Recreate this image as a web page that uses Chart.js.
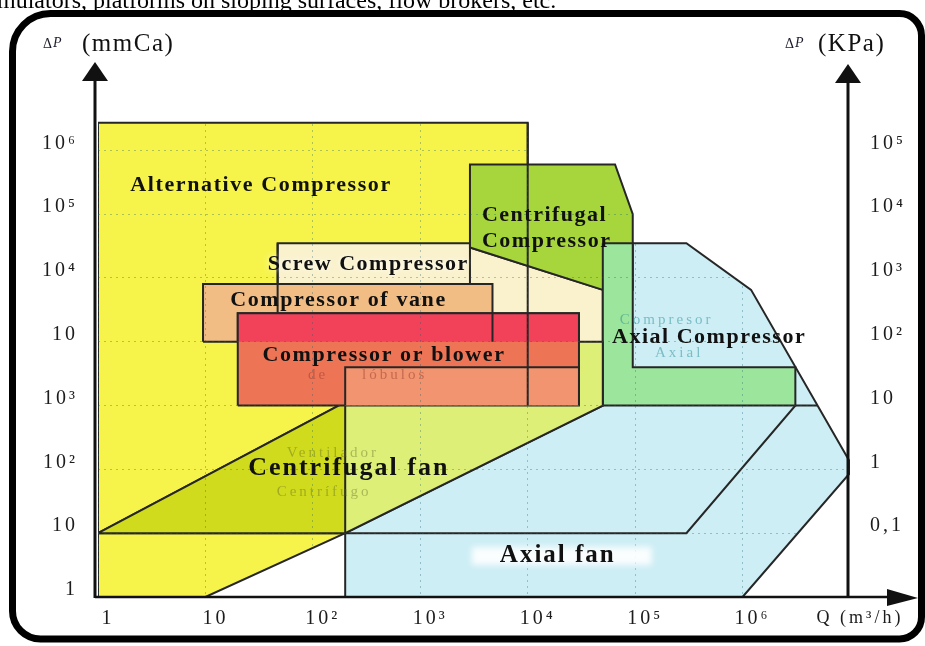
<!DOCTYPE html>
<html lang="en">
<head>
<meta charset="utf-8">
<title>Operating ranges of compressors and fans</title>
<script src="https://cdn.jsdelivr.net/npm/chart.js@4.4.1/dist/chart.umd.min.js"></script>
<style>
  html, body { margin: 0; padding: 0; background: #fff; overflow: hidden; }
  canvas { display: block; }
</style>
</head>
<body>
<canvas id="chart" width="925" height="646"></canvas>
<script>
// Axis ticks: one per decade of flow Q and of pressure rise ΔP
const decades = [1, 10, 1e2, 1e3, 1e4, 1e5, 1e6, 1e7];
const flowTickLabels = ['1', '10', '10²', '10³', '10⁴', '10⁵', '10⁶', 'Q (m³/h)'];
const mmcaTickLabels = ['1', '10', '10²', '10³', '10', '10⁴', '10⁵', '10⁶'];
const kpaTickLabels = ['', '0,1', '1', '10', '10²', '10³', '10⁴', '10⁵'];

// Region outlines, vertex by vertex: flow Q (m³/h) and ΔP (mmCa)
const alternativeQ = [1, 1e4, 1e4, 200, 200, 10, 1, 1];
const alternativeP = [2.7e7, 2.7e7, 1e3, 1e3, 10, 1, 1, 2.7e7];

const axialEnvelopeQ = [200, 200, 1e6, 1e7, 1e7, 1.2e6, 3e5, 5e4, 5e4, 200];
const axialEnvelopeP = [10, 1, 1, 88, 130, 6.5e4, 3.5e5, 3.5e5, 1e3, 10];

const axialFanTopQ = [200, 3e5, 3.1e6, 5e6];
const axialFanTopP = [10, 10, 1e3, 1e3];

const screwQ = [47, 47, 2900, 2900, 5e4, 5e4];
const screwP = [1e4, 3.5e5, 3.5e5, 3e5, 6.5e4, 1e4];

const centrifugalCompQ = [2900, 2900, 6.5e4, 9.5e4, 9.5e4, 5e4, 2900];
const centrifugalCompP = [8e4, 6e6, 6e6, 1e6, 6.5e4, 6.5e4, 3e5];

const axialCompQ = [5e4, 9.5e4, 9.5e4, 3.1e6, 3.1e6, 5e4, 5e4];
const axialCompP = [3.5e5, 3.5e5, 4e3, 4e3, 1e3, 1e3, 3.5e5];

const centrifugalFanQ = [1, 2290, 5e4, 5e4, 200, 1];
const centrifugalFanP = [10, 1e4, 1e4, 1e3, 10, 10];

const fanOverlapQ = [1, 200, 200, 1];
const fanOverlapP = [10, 1130, 10, 10];

const vaneQ = [9.5, 9.5, 4700, 4700, 9.5];
const vaneP = [1e4, 8e4, 8e4, 1e4, 1e4];

const blowerQ = [20, 20, 3e4, 3e4, 20];
const blowerP = [1e3, 2.8e4, 2.8e4, 1e3, 1e3];

const blowerUpperQ = [20, 20, 3e4, 3e4];
const blowerUpperP = [1e4, 2.8e4, 2.8e4, 1e4];

const lobeQ = [200, 200, 3e4, 3e4];
const lobeP = [1e3, 4e3, 4e3, 1e3];

// Edges that stay visible through the fills laid over them
const edgeAlternativeQ = [1e4, 1e4];
const edgeAlternativeP = [2.7e7, 1e3];
const edgeScrewQ = [47, 47];
const edgeScrewP = [3.5e5, 2.8e4];
const edgeVaneQ = [4700, 4700];
const edgeVaneP = [2.8e4, 1e4];

// Region names, anchored (left end, middle) at a flow / ΔP point
const regionLabels = [
  { text: 'Alternative Compressor', q: 2, p: 2.86e6, size: 22, spacing: 1.6 },
  { text: 'Centrifugal', q: 3750, p: 9.7e5, size: 22, spacing: 1.5 },
  { text: 'Compressor', q: 3750, p: 3.8e5, size: 22, spacing: 1.5 },
  { text: 'Screw Compressor', q: 38, p: 1.65e5, size: 22, spacing: 1.5, glow: true },
  { text: 'Compressor of vane', q: 17, p: 4.5e4, size: 22, spacing: 1.6 },
  { text: 'Compressor or blower', q: 34, p: 6.2e3, size: 22, spacing: 1.6 },
  { text: 'Axial Compressor', q: 6.1e4, p: 1.19e4, size: 22, spacing: 1.5 },
  { text: 'Centrifugal fan', q: 25, p: 105, size: 26, spacing: 2 },
  { text: 'Axial fan', q: 5500, p: 4.4, size: 25, spacing: 2, patch: true }
];

// Faded original Spanish captions printed underneath
const fadedNotes = [
  { text: 'Compresor', q: 7.2e4, p: 2.2e4, color: 'rgba(40,140,150,0.5)' },
  { text: 'Axial', q: 1.53e5, p: 6.6e3, color: 'rgba(40,140,150,0.5)' },
  { text: 'Ventilador', q: 57, p: 180, color: 'rgba(90,100,40,0.4)' },
  { text: 'Centrífugo', q: 46, p: 44, color: 'rgba(90,100,40,0.4)' },
  { text: 'de', q: 90, p: 3000, color: 'rgba(140,50,40,0.45)' },
  { text: 'lóbulos', q: 287, p: 3000, color: 'rgba(140,50,40,0.45)' }
];

const SERIF = '"Liberation Serif", "Times New Roman", Times, serif';
const OUTLINE = '#262626';

function region(qs, ps, fillColor, width) {
  return {
    data: qs.map((q, i) => ({ x: q, y: ps[i] })),
    fill: fillColor ? 'shape' : false,
    backgroundColor: fillColor || 'rgba(0,0,0,0)',
    borderColor: OUTLINE,
    borderWidth: width === undefined ? 2 : width,
    pointRadius: 0,
    tension: 0
  };
}

// Listed from the bottom layer to the top layer
const layers = [
  region(alternativeQ, alternativeP, '#f6f44a'),
  region(axialEnvelopeQ, axialEnvelopeP, '#cdeef5'),
  region(axialFanTopQ, axialFanTopP, null),
  region(screwQ, screwP, '#faf2cc'),
  region(centrifugalCompQ, centrifugalCompP, '#a7d63c'),
  region(axialCompQ, axialCompP, '#9ce59c'),
  region(centrifugalFanQ, centrifugalFanP, '#ddef76'),
  region(fanOverlapQ, fanOverlapP, '#cfdb1c'),
  region(vaneQ, vaneP, '#f1bd85'),
  region(blowerQ, blowerP, '#ee7456'),
  region(blowerUpperQ, blowerUpperP, '#f2425a'),
  region(lobeQ, lobeP, '#f2946f'),
  region(edgeAlternativeQ, edgeAlternativeP, null),
  region(edgeScrewQ, edgeScrewP, null),
  region(edgeVaneQ, edgeVaneP, null)
];
layers.forEach((d, i) => { d.order = layers.length - i; });

function arrowHead(ctx, tipX, tipY, baseX1, baseY1, baseX2, baseY2) {
  ctx.beginPath();
  ctx.moveTo(tipX, tipY);
  ctx.lineTo(baseX1, baseY1);
  ctx.lineTo(baseX2, baseY2);
  ctx.closePath();
  ctx.fill();
}

const decor = {
  id: 'decor',
  beforeDraw(chart) {
    chart.ctx.globalCompositeOperation = 'source-over';
    chart.ctx.letterSpacing = '3px';
  },
  afterDatasetsDraw(chart) {
    // the dotted decade grid is laid only over the shaded regions
    chart.ctx.globalCompositeOperation = 'source-atop';
  },
  afterDraw(chart) {
    const ctx = chart.ctx;
    const xs = chart.scales.x, ys = chart.scales.y;
    ctx.save();
    ctx.globalCompositeOperation = 'source-over';
    ctx.textBaseline = 'middle';
    ctx.textAlign = 'left';

    fadedNotes.forEach(n => {
      ctx.font = '15px ' + SERIF;
      ctx.letterSpacing = '3px';
      ctx.fillStyle = n.color;
      ctx.fillText(n.text, xs.getPixelForValue(n.q), ys.getPixelForValue(n.p));
    });

    regionLabels.forEach(l => {
      const px = xs.getPixelForValue(l.q), py = ys.getPixelForValue(l.p);
      ctx.font = 'bold ' + l.size + 'px ' + SERIF;
      ctx.letterSpacing = l.spacing + 'px';
      if (l.patch) {
        const w = ctx.measureText(l.text).width;
        ctx.save();
        ctx.filter = 'blur(3px)';
        ctx.fillStyle = 'rgba(255,255,255,0.9)';
        ctx.fillRect(px - 28, py - 9, w + 64, 18);
        ctx.restore();
      }
      ctx.save();
      if (l.glow) { ctx.shadowColor = 'rgba(255,255,255,0.95)'; ctx.shadowBlur = 6; }
      ctx.fillStyle = '#111';
      ctx.fillText(l.text, px, py);
      ctx.restore();
    });

    // axes with arrows
    const left = xs.getPixelForValue(1) - 3;
    const right = xs.getPixelForValue(1e7) - 2;
    const base = ys.getPixelForValue(1);
    ctx.strokeStyle = '#111';
    ctx.fillStyle = '#111';
    ctx.lineWidth = 3;
    ctx.beginPath();
    ctx.moveTo(left, base + 1); ctx.lineTo(left, 78);
    ctx.moveTo(right, base + 1); ctx.lineTo(right, 80);
    ctx.stroke();
    ctx.lineWidth = 2.5;
    ctx.beginPath();
    ctx.moveTo(left, base); ctx.lineTo(892, base);
    ctx.stroke();
    arrowHead(ctx, left, 62, left - 13, 81, left + 13, 81);
    arrowHead(ctx, right, 64, right - 13, 83, right + 13, 83);
    arrowHead(ctx, 918, base + 1, 887, base - 8, 887, base + 9);

    // axis titles
    ctx.letterSpacing = '1px';
    ctx.fillStyle = '#1a1a2a';
    ctx.font = '14px ' + SERIF;
    ctx.fillText('Δ', 43, 44);
    ctx.font = 'italic 14px ' + SERIF;
    ctx.fillText('P', 53, 43);
    ctx.font = '14px ' + SERIF;
    ctx.fillText('Δ', 785, 44);
    ctx.font = 'italic 14px ' + SERIF;
    ctx.fillText('P', 795, 43);
    ctx.letterSpacing = '1.5px';
    ctx.fillStyle = '#111';
    ctx.font = '25px ' + SERIF;
    ctx.fillText('(mmCa)', 82, 44);
    ctx.fillText('(KPa)', 818, 44);

    // rounded frame
    ctx.lineWidth = 7;
    ctx.strokeStyle = '#000';
    ctx.beginPath();
    ctx.roundRect(12.5, 13.5, 909, 625.5, [38, 22, 22, 28]);
    ctx.stroke();

    // running text of the page above the figure
    ctx.letterSpacing = '0px';
    ctx.textBaseline = 'alphabetic';
    ctx.font = '24px ' + SERIF;
    ctx.fillStyle = '#000';
    ctx.fillText('mulators, platforms on sloping surfaces, flow brokers, etc.', -3, 8);
    ctx.restore();
  }
};

const gridStyle = { color: 'rgba(20,90,110,0.32)', lineWidth: 1, z: 1, drawTicks: false };
const borderStyle = { display: false, dash: [2, 4] };
const setDecadeTicks = s => { s.ticks = decades.map(v => ({ value: v })); };

new Chart(document.getElementById('chart'), {
  type: 'line',
  data: { datasets: layers },
  options: {
    responsive: false,
    animation: false,
    devicePixelRatio: 1,
    events: [],
    layout: { padding: { top: 112, left: 0, right: 0, bottom: 0 } },
    plugins: { legend: { display: false }, tooltip: { enabled: false }, title: { display: false } },
    scales: {
      x: {
        type: 'logarithmic', position: 'bottom', bounds: 'data', min: 1, max: 1e7,
        afterBuildTicks: setDecadeTicks,
        afterFit: s => { s.height = 49; },
        grid: gridStyle, border: borderStyle,
        ticks: {
          autoSkip: false, maxRotation: 0, minRotation: 0, padding: 10, labelOffset: 10,
          color: '#1c1c1c',
          font: c => ({ family: SERIF, size: c.index === 7 ? 18 : 20 }),
          callback: (v, i) => flowTickLabels[i]
        }
      },
      y: {
        type: 'logarithmic', position: 'left', bounds: 'data', min: 1, max: Math.pow(10, 7.6),
        afterBuildTicks: setDecadeTicks,
        afterFit: s => { s.width = 98; },
        grid: gridStyle, border: borderStyle,
        ticks: {
          autoSkip: false, padding: 20, labelOffset: -7, color: '#1c1c1c',
          font: { family: SERIF, size: 20 },
          callback: (v, i) => mmcaTickLabels[i]
        }
      },
      y2: {
        type: 'logarithmic', position: 'right', bounds: 'data', min: 1, max: Math.pow(10, 7.6),
        afterBuildTicks: setDecadeTicks,
        afterFit: s => { s.width = 75; },
        grid: { display: false, drawOnChartArea: false, drawTicks: false },
        border: { display: false },
        ticks: {
          autoSkip: false, padding: 20, labelOffset: -7, color: '#1c1c1c',
          font: { family: SERIF, size: 20 },
          callback: (v, i) => kpaTickLabels[i]
        }
      }
    }
  },
  plugins: [decor]
});
</script>
</body>
</html>
